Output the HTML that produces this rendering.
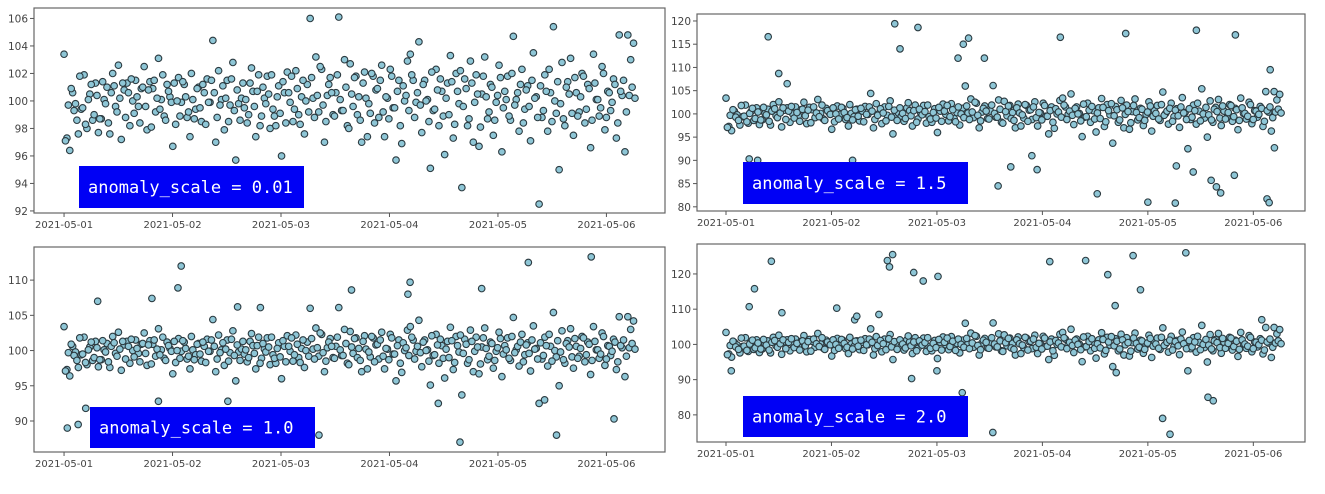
<!DOCTYPE html>
<html><head><meta charset="utf-8"><style>
body{margin:0;background:#fff;}
svg{display:block;font-family:"DejaVu Sans","Liberation Sans",sans-serif;}
</style></head><body>
<svg id="chart" width="1325" height="494" viewBox="0 0 1325 494"></svg>
<script>
// shared baseline series (one value per time step, hours 0..126)
const baseValues = [
103.4,97.3,96.4,100.6,99.8,97.6,99.4,101.9,98.0,100.5,98.6,101.3,97.7,98.7,100.1,101.0,97.6,102.0,99.6,102.6,
97.2,100.8,101.3,98.2,100.0,101.5,99.6,100.9,102.5,97.9,101.4,100.9,99.2,103.1,100.1,98.9,101.2,100.3,96.7,98.3,
101.7,99.9,101.2,98.8,97.4,100.1,99.4,101.0,98.5,100.6,101.6,99.9,104.4,97.0,102.2,100.1,97.9,101.5,99.7,102.8,
95.7,99.8,100.2,99.5,98.4,101.3,100.7,97.4,101.9,98.9,100.2,101.8,98.0,99.4,98.2,101.1,96.0,100.6,102.1,99.9,
98.5,102.2,99.0,100.3,97.6,101.2,106.0,100.2,103.2,99.2,102.3,97.0,100.4,101.7,99.0,100.6,106.1,99.3,103.0,98.2,
102.7,99.6,101.8,100.3,97.0,102.1,97.4,99.1,101.8,100.8,98.8,102.6,97.4,100.2,102.3,99.5,95.7,101.5,96.9,100.0,
102.9,103.4,101.5,99.9,104.3,97.7,101.5,100.1,95.1,99.3,102.3,98.2,100.7,96.1,101.3,103.3,97.3,102.0,99.8,93.7,
101.6,98.2,102.9,97.0,101.9,96.7,100.5,103.2,98.7,101.2,97.5,99.9,102.6,96.3,100.7,101.8,98.6,104.7,100.1,97.8,
102.3,99.4,101.1,97.1,103.5,100.3,92.5,98.8,101.9,97.8,100.6,105.4,99.1,95.0,102.8,98.2,101.4,103.1,97.5,100.6,
99.2,102.0,98.4,101.2,96.6,103.4,100.1,98.9,102.5,97.9,100.7,99.3,101.6,97.3,104.8,100.4,96.3,104.8,103.0,104.2
];
// second interleaved baseline (half-step offsets)
const baseValues2 = [
97.1,99.7,100.9,99.3,98.6,101.8,99.5,98.3,100.1,101.2,99.0,100.4,98.7,101.4,99.8,98.4,100.6,101.1,99.2,100.2,
101.3,98.8,100.6,101.6,99.1,100.3,98.4,101.0,99.6,100.8,98.1,101.5,100.2,99.4,101.9,98.6,100.7,99.9,101.3,100.0,
98.9,101.4,100.3,99.2,102.0,98.7,100.9,99.5,101.2,98.3,99.9,101.5,100.6,98.8,99.7,101.1,100.2,98.5,101.6,99.3,
100.8,98.6,101.3,100.1,99.0,102.4,99.6,100.7,98.2,101.0,99.8,100.5,101.9,98.9,100.3,99.1,101.4,98.4,100.6,101.8,
99.4,100.9,98.3,101.5,100.0,99.2,101.7,98.8,100.4,102.5,99.7,98.5,101.2,100.6,98.9,101.9,100.1,99.3,101.0,98.0,
100.5,101.7,99.0,98.6,101.3,100.2,99.8,102.0,98.4,100.9,101.5,99.2,100.3,98.7,101.8,99.5,100.7,98.2,101.1,100.4,
99.3,101.9,98.8,100.6,99.7,101.2,100.0,98.5,102.1,99.4,100.8,101.6,98.9,100.2,99.0,101.4,98.3,100.7,102.2,99.6,
100.9,98.7,101.3,99.9,100.5,98.1,101.8,100.3,99.2,101.0,98.6,100.4,101.7,99.5,100.1,98.9,102.0,99.7,100.6,101.2,
98.4,100.8,99.6,101.5,100.2,98.8,101.1,99.3,100.7,102.3,98.5,100.0,101.4,99.8,98.7,101.0,100.5,99.1,101.7,98.9,
100.3,101.8,99.4,100.9,98.6,101.3,100.1,99.5,102.0,98.8,100.6,99.9,101.2,98.4,100.7,101.5,99.2,100.4,101.0,100.2
];
const totalHours = 126;
const dayLabels = ["2021-05-01","2021-05-02","2021-05-03","2021-05-04","2021-05-05","2021-05-06"];

// anomalies per panel: time in days since 2021-05-01, value
const p2AnomDays = [0.22,0.30,0.40,0.50,0.58,1.20,1.60,1.65,1.82,2.20,2.25,2.30,2.45,2.58,2.70,2.90,2.95,3.17,3.52,3.79,4.00,4.26,4.27,4.43,4.46,4.60,4.65,4.69,4.82,4.83,5.13,5.15,5.16,5.20];
const p2AnomVals = [90.3,90.0,116.6,108.7,106.5,90.0,119.4,114.0,118.6,112.0,115.0,116.3,112.0,84.5,88.6,91.0,88.0,116.5,82.8,117.3,81.0,80.8,88.8,87.5,118.0,85.7,84.3,83.0,86.8,117.0,81.7,80.9,109.5,92.7];

const p3AnomDays = [0.03,0.13,0.20,0.31,0.81,0.87,1.05,1.08,1.51,1.60,1.81,2.35,2.65,3.17,3.19,3.45,3.65,3.85,4.28,4.43,4.54,4.86,5.07];
const p3AnomVals = [89.0,89.5,91.8,107.0,107.4,92.8,108.9,112.0,92.8,106.2,106.1,88.0,108.6,108.0,109.7,92.5,87.0,108.8,112.5,93.0,88.0,113.3,90.3];

const p4AnomDays = [0.05,0.22,0.27,0.43,0.53,1.05,1.22,1.24,1.45,1.53,1.55,1.58,1.76,1.78,1.87,2.00,2.01,2.24,2.53,3.07,3.41,3.62,3.69,3.70,3.86,3.93,4.14,4.21,4.36,4.57,4.62,5.08];
const p4AnomVals = [92.5,110.7,115.8,123.6,109.0,110.3,107.0,108.0,108.5,123.8,122.0,125.5,90.3,120.4,118.0,92.5,119.3,86.3,75.0,123.5,123.8,119.8,111.0,92.0,125.2,115.5,79.0,74.5,126.0,85.0,84.0,107.0];

const p1Ticks = [92,94,96,98,100,102,104,106];
const p2Ticks = [80,85,90,95,100,105,110,115,120];
const p3Ticks = [90,95,100,105,110];
const p4Ticks = [80,90,100,110,120];

const NS = "http://www.w3.org/2000/svg";
const svg = document.getElementById("chart");
function mk(tag, attrs, parent){
  const e = document.createElementNS(NS, tag);
  for (const k in attrs) e.setAttribute(k, attrs[k]);
  parent.appendChild(e);
  return e;
}

function drawPanel(cfg, ticks, anomDays, anomVals, label, name){
  const g = mk("g", {}, svg);
  
  
  const xS = d => cfg.x0 + (d - cfg.dMin) / (cfg.dMax - cfg.dMin) * (cfg.x1 - cfg.x0);
  const yS = v => cfg.y1 - (v - cfg.vMin) / (cfg.vMax - cfg.vMin) * (cfg.y1 - cfg.y0);
  const fr = mk("rect", {x:cfg.x0, y:cfg.y0, width:cfg.x1-cfg.x0, height:cfg.y1-cfg.y0, fill:"#fff", stroke:"#666", "stroke-width":1.2}, g);
  
  
  ticks.forEach(t => {
    const y = yS(t);
    mk("line", {x1:cfg.x0-4, x2:cfg.x0, y1:y, y2:y, stroke:"#555", "stroke-width":1}, g);
    const tx = mk("text", {x:cfg.x0-6, y:y+4, "text-anchor":"end", "font-size":10.5, fill:"#444"}, g);
    tx.textContent = t;
    
    
  });
  dayLabels.forEach((lab, i) => {
    const x = xS(i);
    mk("line", {x1:x, x2:x, y1:cfg.y1, y2:cfg.y1+4, stroke:"#555", "stroke-width":1}, g);
    const tx = mk("text", {x:x, y:cfg.y1+15, "text-anchor":"middle", "font-size":10, fill:"#444"}, g);
    tx.textContent = lab;
    
    
  });
  const n = baseValues.length;
  const step = totalHours / (n - 1) / 24;
  const pts = [];
  baseValues.forEach((v, i) => pts.push([i * step, v]));
  baseValues2.forEach((v, i) => pts.push([(i + 0.5) * step, v]));
  anomDays.forEach((d, i) => pts.push([d, anomVals[i]]));
  pts.forEach(p => {
    const c = mk("circle", {cx:xS(p[0]), cy:yS(p[1]), r:3.3, fill:"#8ec6d6", stroke:"#2b3a40", "stroke-width":1.1}, g);
    
    
  });
  const b = mk("rect", {x:cfg.bx, y:cfg.by, width:cfg.bw, height:cfg.bh, fill:"#0000f5"}, g);
  
  
  const t = mk("text", {x:cfg.bx+9, y:cfg.by+cfg.bh/2+6, "font-size":17, fill:"#fff", "font-family":"'DejaVu Sans Mono','Liberation Mono',monospace"}, g);
  t.textContent = label;
  
  
}

drawPanel({x0:34,x1:665,y0:8,y1:213,dMin:-0.277,dMax:5.54,vMin:91.85,vMax:106.76,bx:79,by:166,bw:225,bh:42},
  p1Ticks, [], [], "anomaly_scale = 0.01", "panel-scale-0-01");
drawPanel({x0:697,x1:1305,y0:14,y1:211,dMin:-0.275,dMax:5.49,vMin:79.1,vMax:121.5,bx:743,by:162,bw:225,bh:42},
  p2Ticks, p2AnomDays, p2AnomVals, "anomaly_scale = 1.5", "panel-scale-1-5");
drawPanel({x0:34,x1:665,y0:247,y1:452,dMin:-0.277,dMax:5.54,vMin:85.6,vMax:114.7,bx:90,by:407,bw:225,bh:41},
  p3Ticks, p3AnomDays, p3AnomVals, "anomaly_scale = 1.0", "panel-scale-1-0");
drawPanel({x0:697,x1:1305,y0:244,y1:442,dMin:-0.275,dMax:5.49,vMin:72.3,vMax:128.5,bx:743,by:396,bw:225,bh:41},
  p4Ticks, p4AnomDays, p4AnomVals, "anomaly_scale = 2.0", "panel-scale-2-0");
</script>
</body></html>
